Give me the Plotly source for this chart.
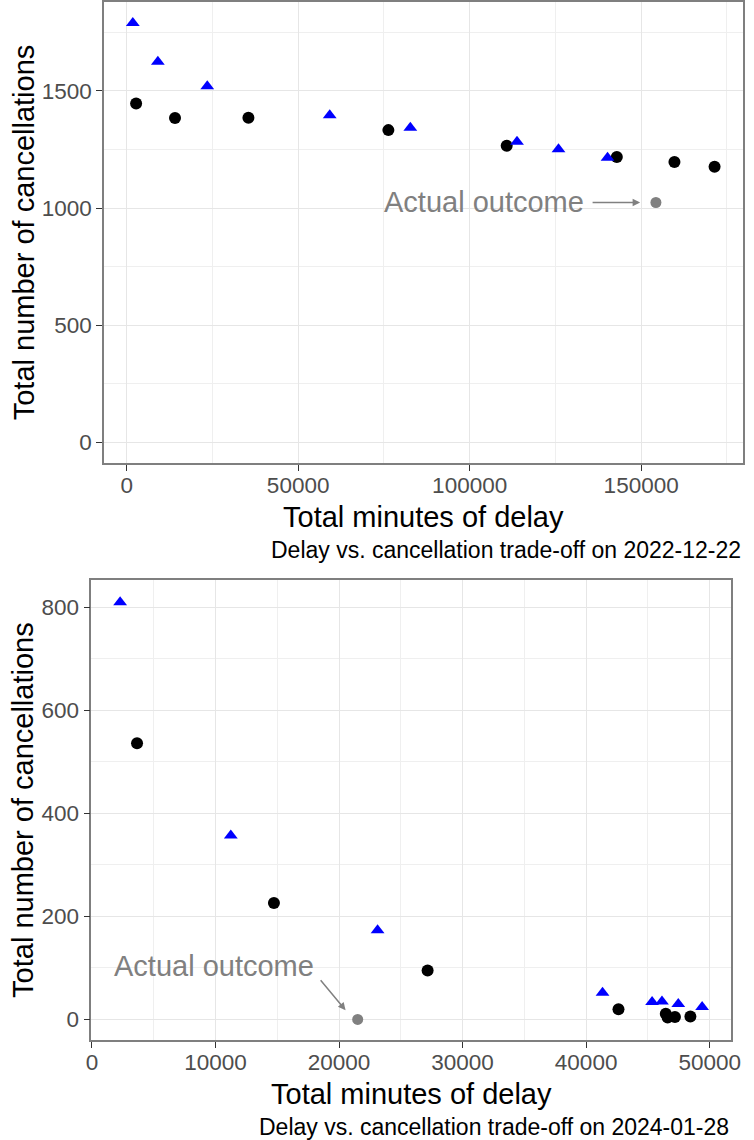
import plotly.graph_objects as go

# panel 1: 2022-12-22
delay_circ_1 = [2760, 14100, 35500, 76300, 110800, 142900, 159700, 171400]
canc_circ_1 = [1447, 1385, 1386, 1333, 1266, 1218, 1197, 1177]
delay_tri_1 = [1800, 9100, 23500, 59200, 82700, 113800, 125900, 140200]
canc_tri_1 = [1790, 1625, 1520, 1397, 1343, 1283, 1251, 1215]
actual_1 = (154300, 1024)

# panel 2: 2024-01-28
delay_circ_2 = [3650, 14730, 27170, 42620, 46450, 46600, 47190, 48440]
canc_circ_2 = [536, 226, 95, 20, 11, 4, 5, 6]
delay_tri_2 = [2280, 11240, 23120, 41330, 45340, 46140, 47460, 49390]
canc_tri_2 = [810, 357, 173, 52, 34, 35, 30, 24]
actual_2 = (21510, 0)

x_ticks_1 = [0, 50000, 100000, 150000]
y_ticks_1 = [0, 500, 1000, 1500]
x_ticks_2 = [0, 10000, 20000, 30000, 40000, 50000]
y_ticks_2 = [0, 200, 400, 600, 800]

captions = ["Delay vs. cancellation trade-off on 2022-12-22",
            "Delay vs. cancellation trade-off on 2024-01-28"]
x_title = "Total minutes of delay"
y_title = "Total number of cancellations"

W, H = 754, 1140
FONT = "Liberation Sans"
GREY = "#808080"


def px_x(p):
    return p / W


def px_y(p):
    return 1 - p / H


fig = go.Figure()


def add_panel(n, xc, yc, xt, yt, actual):
    xa = "x" if n == 1 else "x%d" % n
    ya = "y" if n == 1 else "y%d" % n
    fig.add_trace(go.Scatter(x=xc, y=yc, mode="markers", xaxis=xa, yaxis=ya,
                             marker=dict(symbol="circle", size=12, color="black"),
                             showlegend=False))
    fig.add_trace(go.Scatter(x=xt, y=yt, mode="markers", xaxis=xa, yaxis=ya,
                             marker=dict(symbol="triangle-up", size=12, color="#0000FF"),
                             showlegend=False))
    fig.add_trace(go.Scatter(x=[actual[0]], y=[actual[1]], mode="markers",
                             xaxis=xa, yaxis=ya,
                             marker=dict(symbol="circle", size=11, color=GREY),
                             showlegend=False))


add_panel(1, delay_circ_1, canc_circ_1, delay_tri_1, canc_tri_1, actual_1)
add_panel(2, delay_circ_2, canc_circ_2, delay_tri_2, canc_tri_2, actual_2)


def axis_style(domain, rng, ticks, minor_step, anchor, standoff=0):
    return dict(
        domain=domain, range=rng, anchor=anchor,
        tickmode="array", tickvals=ticks, ticktext=[str(t) for t in ticks],
        showline=True, linecolor="#7F7F7F", linewidth=1.5, mirror=True,
        ticks="outside", ticklen=6, tickwidth=1.3, tickcolor="#333333",
        ticklabelstandoff=standoff,
        tickfont=dict(family=FONT, size=22.5, color="#4D4D4D"),
        showgrid=True, gridcolor="#E6E6E6", gridwidth=1.4, zeroline=False,
        minor=dict(dtick=minor_step, tick0=0, showgrid=True,
                   gridcolor="#EFEFEF", gridwidth=0.7),
    )


fig.update_layout(
    width=W, height=H,
    margin=dict(l=0, r=0, t=0, b=0),
    plot_bgcolor="white", paper_bgcolor="white",
    font=dict(family=FONT),
    xaxis=axis_style([px_x(100), px_x(752)], [-6600, 179700], x_ticks_1, 25000, "y", -5),
    yaxis=axis_style([px_y(462.7), px_y(1)], [-89.5, 1880], y_ticks_1, 250, "x"),
    xaxis2=axis_style([px_x(87), px_x(740)], [-55, 51750], x_ticks_2, 5000, "y2", -5),
    yaxis2=axis_style([px_y(1040), px_y(580)], [-40, 852], y_ticks_2, 100, "x2"),
)

ann = []
# axis titles and captions
for top, bottom, left, right, cap in [(1, 462.7, 100, 752, captions[0]),
                                      (580, 1040, 87, 740, captions[1])]:
    ann.append(dict(text=y_title, xref="paper", yref="paper",
                    x=px_x(18), y=px_y((top + bottom) / 2), textangle=-90,
                    showarrow=False, xanchor="center", yanchor="middle",
                    font=dict(family=FONT, size=29, color="black")))
    ann.append(dict(text=x_title, xref="paper", yref="paper",
                    x=px_x((left + right) / 2), y=px_y(bottom + 54),
                    showarrow=False, xanchor="center", yanchor="middle",
                    font=dict(family=FONT, size=29, color="black")))
    ann.append(dict(text=cap, xref="paper", yref="paper",
                    x=px_x(right), y=px_y(bottom + 87),
                    showarrow=False, xanchor="right", yanchor="middle",
                    font=dict(family=FONT, size=23, color="black")))

# "Actual outcome" labels and arrows
ann.append(dict(text="Actual outcome", xref="x", yref="y", x=104300, y=1026,
                showarrow=False, xanchor="center", yanchor="middle",
                font=dict(family=FONT, size=29, color=GREY)))
ann.append(dict(text="", xref="x", yref="y", x=149700, y=1024,
                axref="x", ayref="y", ax=135400, ay=1024,
                showarrow=True, arrowhead=2, arrowsize=1, arrowwidth=1.5,
                arrowcolor=GREY, standoff=0))
ann.append(dict(text="Actual outcome", xref="x2", yref="y2", x=9920, y=103,
                showarrow=False, xanchor="center", yanchor="middle",
                font=dict(family=FONT, size=29, color=GREY)))
ann.append(dict(text="", xref="x2", yref="y2", x=20530, y=18,
                axref="x2", ayref="y2", ax=18410, ay=79,
                showarrow=True, arrowhead=2, arrowsize=1, arrowwidth=1.5,
                arrowcolor=GREY, standoff=0))

fig.update_layout(annotations=ann)

# drop the browser's default body margin so the figure fills the window exactly
fig.write_html("out.html",
               config={"displayModeBar": False},
               post_script="document.body.style.margin='0';"
                           "document.body.style.overflow='hidden';")
